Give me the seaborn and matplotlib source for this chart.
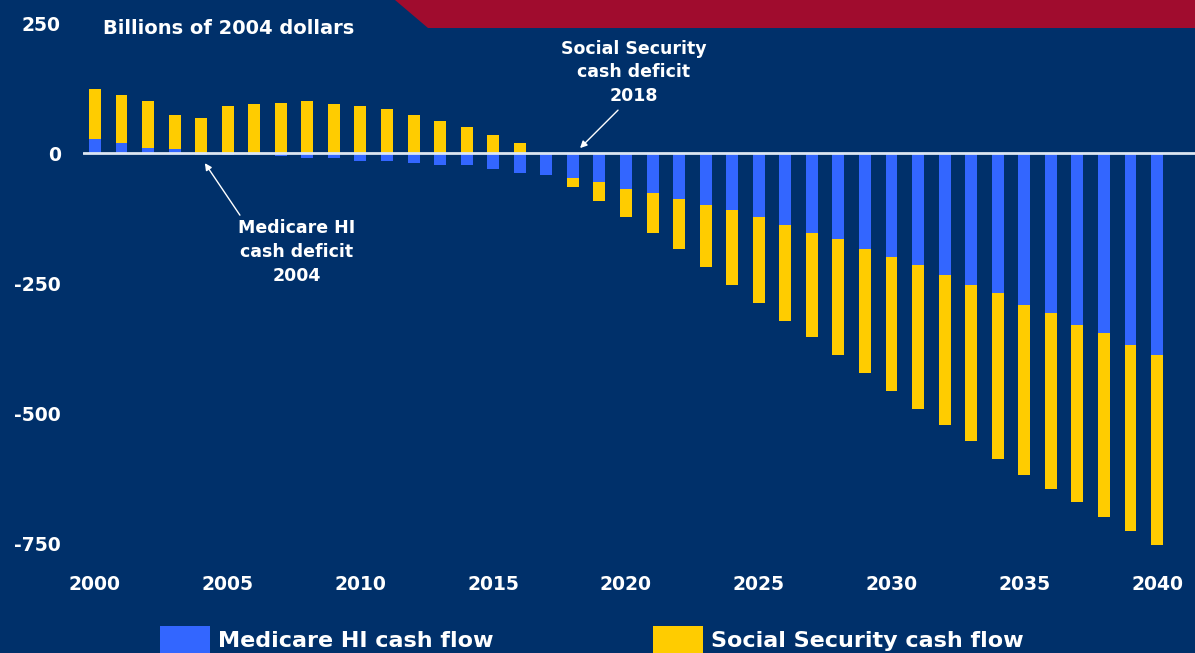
import numpy as np
import pandas as pd
import matplotlib
matplotlib.use("Agg")
import matplotlib.pyplot as plt
from matplotlib.patches import Patch, Polygon
import seaborn as sns

years = list(range(2000, 2041))
medicare_hi = [27, 19, 11, 8, -4, -4, -4, -5, -9, -10, -14, -15, -19, -22, -23, -30, -37, -41,
               -48, -56, -69, -76, -87, -99, -110, -122, -138, -153, -165, -184, -199, -215,
               -234, -253, -269, -292, -307, -330, -345, -369, -388]
social_security = [96, 93, 90, 66, 67, 90, 94, 97, 101, 94, 90, 86, 74, 62, 51, 35, 20, 0,
                   -17, -36, -54, -78, -97, -120, -144, -166, -184, -200, -223, -239, -258, -276,
                   -288, -301, -319, -326, -339, -341, -354, -357, -365]
y_ticks = [250, 0, -250, -500, -750]
x_ticks = [2000, 2005, 2010, 2015, 2020, 2025, 2030, 2035, 2040]

BG = "#00306a"
BLUE = "#3366ff"
YELLOW = "#ffcc00"
RED = "#a00c2e"

sns.set_theme(style="white")
plt.rcParams["font.family"] = ["DejaVu Sans"]
plt.rcParams["font.weight"] = "bold"

hi = np.array(medicare_hi, dtype=float)
ss = np.array(social_security, dtype=float)
same_sign = np.sign(hi) == np.sign(ss)
ss_outer = ss + np.where(same_sign, hi, 0.0)
df = pd.DataFrame({"year": years, "hi": hi, "ss_outer": ss_outer})

fig = plt.figure(figsize=(11.95, 6.53), dpi=100, facecolor=BG)
W, H = 1195, 653
ax = fig.add_axes([83 / W, 1 - 564 / H, 1 - 83 / W, (564 - 23.3) / H])
ax.set_facecolor(BG)

sns.barplot(data=df, x="year", y="ss_outer", native_scale=True, color=YELLOW,
            saturation=1, width=0.45, linewidth=0, errorbar=None, ax=ax)
sns.barplot(data=df, x="year", y="hi", native_scale=True, color=BLUE,
            saturation=1, width=0.45, linewidth=0, errorbar=None, ax=ax)

ax.axhline(0, color="#dce6f2", lw=2, zorder=3)
ax.set_xlim(1999.55, 2041.43)
ax.set_ylim(-790, 250)
ax.set_yticks(y_ticks)
ax.set_yticklabels([str(v) for v in y_ticks])
ax.set_xticks(x_ticks)
ax.set_xticklabels([str(v) for v in x_ticks])
ax.tick_params(axis="y", length=0, pad=16, labelsize=13.5, labelcolor="white")
ax.tick_params(axis="x", length=0, pad=8, labelsize=13.5, labelcolor="white")
for lab in ax.get_xticklabels() + ax.get_yticklabels():
    lab.set_fontweight("bold")
ax.set_xlabel("")
ax.set_ylabel("")
for s in ax.spines.values():
    s.set_visible(False)
ax.grid(False)

# header band
red = Polygon([(395 / W, 1.0), (1.0, 1.0), (1.0, 1 - 28 / H), (428 / W, 1 - 28 / H)],
              closed=True, transform=fig.transFigure, facecolor=RED, edgecolor="none")
fig.patches.append(red)

fig.text(103 / W, 1 - 29 / H, "Billions of 2004 dollars", color="white",
         fontsize=14, fontweight="bold", va="center", ha="left")

# annotations
arrow_kw = dict(arrowstyle="-|>", color="white", lw=1, mutation_scale=10, shrinkA=0, shrinkB=0)
ax.text(2020.3, 156, "Social Security\ncash deficit\n2018", ha="center", va="center",
        color="white", fontsize=12.5, fontweight="bold", linespacing=1.4)
ax.annotate("", xy=(2018.27, 10), xytext=(2019.7, 83), arrowprops=arrow_kw)
ax.text(2007.6, -190, "Medicare HI\ncash deficit\n2004", ha="center", va="center",
        color="white", fontsize=12.5, fontweight="bold", linespacing=1.4)
ax.annotate("", xy=(2004.14, -19), xytext=(2005.46, -119), arrowprops=arrow_kw)

handles = [Patch(facecolor=BLUE, edgecolor="none", label="Medicare HI cash flow"),
           Patch(facecolor=YELLOW, edgecolor="none", label="Social Security cash flow")]
leg = fig.legend(handles=handles, loc="center left", bbox_to_anchor=(160 / W, 13 / H),
                 ncol=2, frameon=False, fontsize=16, handlelength=2.25, handleheight=1.5,
                 handletextpad=0.35, columnspacing=7.2, borderpad=0, borderaxespad=0)
for t in leg.get_texts():
    t.set_color("white")
    t.set_fontweight("bold")

fig.savefig("out.png", dpi=100, facecolor=BG)
